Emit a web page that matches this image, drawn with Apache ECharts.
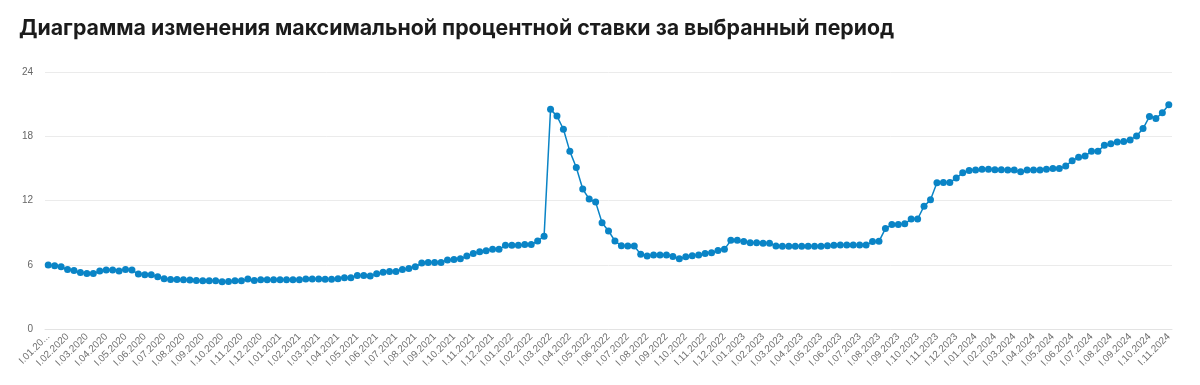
<!DOCTYPE html>
<html>
<head>
<meta charset="utf-8">
<script src="https://cdn.jsdelivr.net/npm/echarts@6/dist/echarts.min.js"></script>
<style>
  html, body { margin: 0; padding: 0; background: #fff; }
  #chart { width: 1200px; height: 385px; }
</style>
</head>
<body>
<div id="chart"></div>
<script>
const titleText = 'Диаграмма изменения максимальной процентной ставки за выбранный период';

const decades = ['I', 'II', 'III'];
const months = ['01','02','03','04','05','06','07','08','09','10','11','12'];
const years = ['2020', '2021', '2022', '2023', '2024'];
const lastCategory = 'I.11.2024';

const yTicks = [0, 6, 12, 18, 24];

const rates2020 = [5.97,5.91,5.81,5.56,5.47,5.28,5.19,5.19,5.41,5.5,5.5,5.41,
  5.56,5.5,5.13,5.07,5.07,4.88,4.69,4.63,4.63,4.6,4.57,4.54,
  4.5,4.5,4.5,4.41,4.44,4.5,4.5,4.66,4.54,4.6,4.6,4.6];
const rates2021 = [4.6,4.6,4.6,4.6,4.66,4.66,4.66,4.65,4.65,4.7,4.78,4.78,
  5.0,5.0,4.94,5.16,5.31,5.38,5.38,5.56,5.66,5.81,6.16,6.22,
  6.22,6.22,6.44,6.5,6.56,6.81,7.06,7.22,7.31,7.44,7.44,7.81];
const rates2022 = [7.81,7.81,7.88,7.88,8.22,8.67,20.51,19.88,18.65,16.59,15.09,13.07,
  12.14,11.85,9.92,9.16,8.22,7.77,7.75,7.75,6.97,6.81,6.91,6.91,
  6.91,6.78,6.56,6.75,6.84,6.91,7.06,7.13,7.34,7.44,8.28,8.28];
const rates2023 = [8.16,8.06,8.06,8.0,8.0,7.75,7.72,7.72,7.72,7.72,7.72,7.72,
  7.72,7.78,7.81,7.84,7.84,7.84,7.84,7.84,8.16,8.19,9.38,9.75,
  9.75,9.82,10.27,10.27,11.47,12.06,13.66,13.69,13.69,14.09,14.59,14.81];
const rates2024 = [14.84,14.91,14.91,14.88,14.88,14.84,14.84,14.69,14.84,14.84,14.84,14.91,
  15.0,15.0,15.22,15.72,16.03,16.16,16.59,16.59,17.16,17.31,17.47,17.5,
  17.66,18.03,18.72,19.84,19.66,20.19,20.94];

// build category labels (decade.month.year) up to the last category
const categories = [];
outer:
for (const y of years) {
  for (const m of months) {
    for (const d of decades) {
      const c = d + '.' + m + '.' + y;
      categories.push(c);
      if (c === lastCategory) break outer;
    }
  }
}
const values = [].concat(rates2020, rates2021, rates2022, rates2023, rates2024);

const chart = echarts.init(document.getElementById('chart'), null, { renderer: 'canvas' });
chart.setOption({
  animation: false,
  backgroundColor: '#ffffff',
  title: {
    text: titleText,
    left: 14,
    top: 13,
    textStyle: {
      fontFamily: 'Inter, Roboto, sans-serif',
      fontSize: 21.3,
      fontWeight: 'bold',
      color: '#1b1b1b'
    }
  },
  grid: { left: 45, right: 28, top: 72, bottom: 56, containLabel: false },
  xAxis: {
    type: 'category',
    data: categories,
    boundaryGap: true,
    axisLine: { show: true, lineStyle: { color: '#e3e3e3' } },
    axisTick: { show: false },
    axisLabel: {
      interval: 2,
      rotate: 45,
      fontSize: 10,
      color: '#707070',
      fontFamily: 'Liberation Sans, Arial, sans-serif',
      margin: 6,
      formatter: function (v, i) {
        return i === 0 ? v.slice(0, 7) + '...' : v;
      }
    },
    splitLine: { show: false }
  },
  yAxis: {
    type: 'value',
    min: yTicks[0],
    max: yTicks[yTicks.length - 1],
    interval: 6,
    axisLine: { show: false },
    axisTick: { show: false },
    axisLabel: {
      fontSize: 10,
      color: '#666666',
      fontFamily: 'Liberation Sans, Arial, sans-serif',
      margin: 12
    },
    splitLine: { lineStyle: { color: '#ebebeb' } }
  },
  series: [{
    type: 'line',
    data: values,
    symbol: 'circle',
    symbolSize: 7,
    showSymbol: true,
    showAllSymbol: true,
    smooth: false,
    lineStyle: { color: '#0a84c6', width: 1.5 },
    itemStyle: { color: '#0a84c6' }
  }]
});
</script>
</body>
</html>
